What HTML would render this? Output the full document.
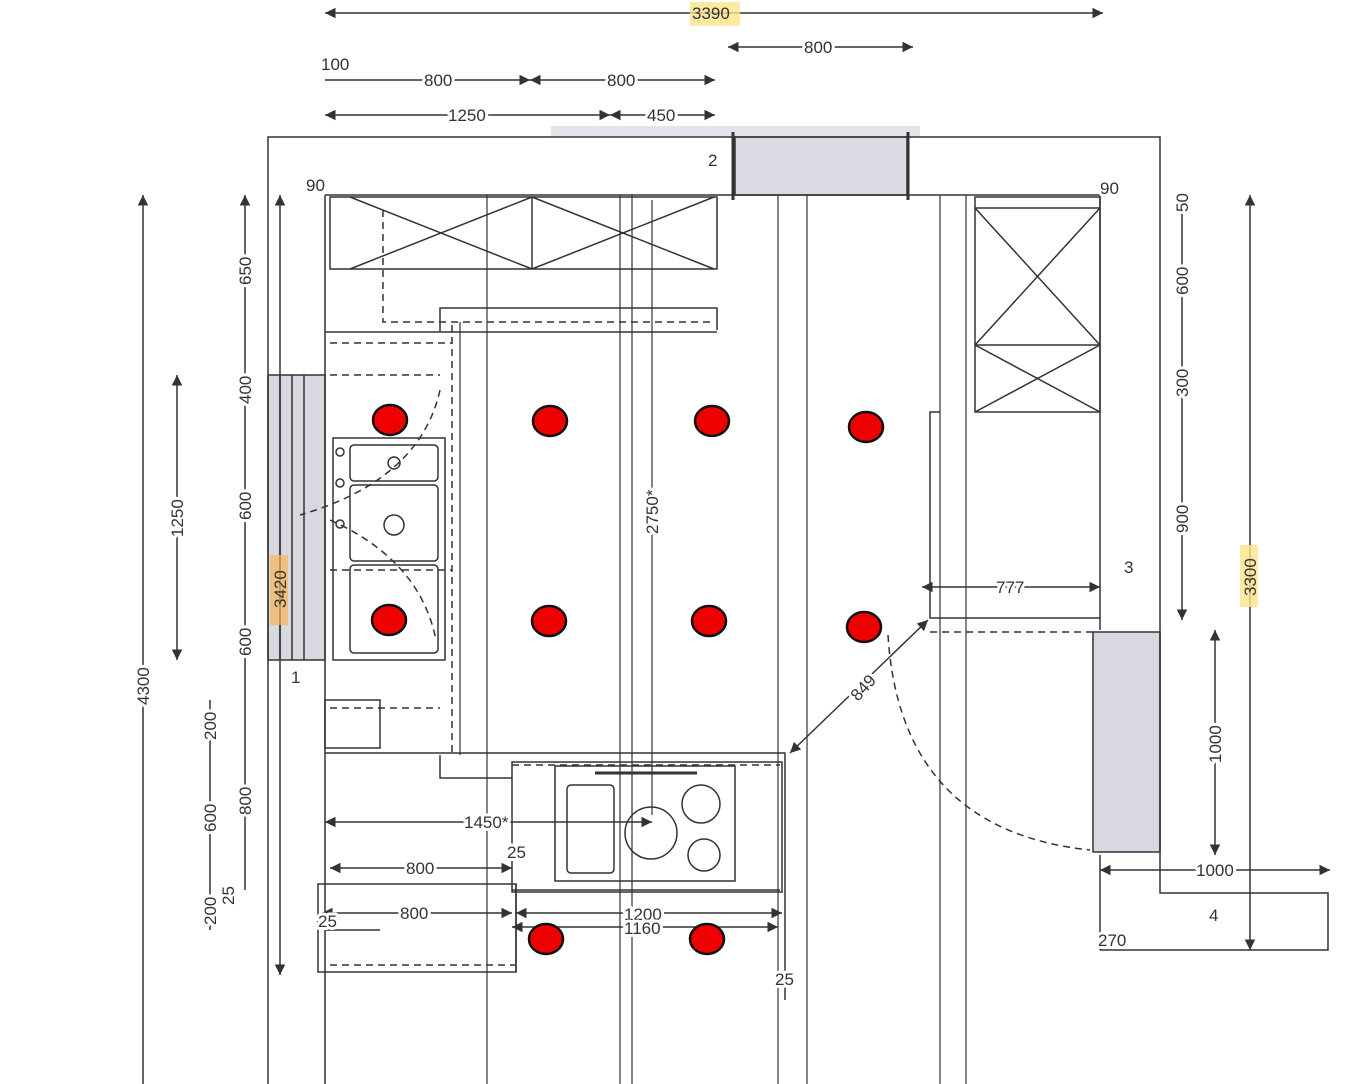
<!DOCTYPE html>
<html><head><style>
html,body{margin:0;padding:0;background:#fff;width:1357px;height:1084px;overflow:hidden}
svg{display:block}
text{font-family:"Liberation Sans",sans-serif;font-size:17px;fill:#333;paint-order:stroke;stroke:#fff;stroke-width:6px;stroke-linejoin:round}
text.h{stroke:none}
</style></head><body>
<svg width="1357" height="1084" viewBox="0 0 1357 1084" xmlns="http://www.w3.org/2000/svg">
<defs>
<marker id="a" viewBox="0 0 10 10" refX="10" refY="5" markerWidth="9" markerHeight="7" orient="auto-start-reverse"><path d="M0,0 L10,5 L0,10z" fill="#333"/></marker>
</defs>
<g stroke="#333" stroke-width="1.5" fill="none">
<rect x="551" y="126" width="369" height="11" fill="#e4e4ea" stroke="none"/>
<rect x="735" y="137" width="172" height="58" fill="#dcdce4"/>
<rect x="268" y="375" width="57" height="285" fill="#d8d8e0"/>
<line x1="280" y1="375" x2="280" y2="660"/><line x1="292" y1="375" x2="292" y2="660"/><line x1="304" y1="375" x2="304" y2="660"/>
<rect x="1093" y="632" width="67" height="220" fill="#d8d8e0"/>
<polyline points="268,1084 268,137 1160,137 1160,893 1328,893 1328,950 1100,950"/>
<line x1="325" y1="195" x2="1100" y2="195"/>
<line x1="325" y1="195" x2="325" y2="1084"/>
<line x1="1100" y1="195" x2="1100" y2="630"/>
<line x1="1100" y1="855" x2="1100" y2="950"/>
<g stroke-width="1.2">
<line x1="460" y1="322" x2="460" y2="755"/><line x1="487" y1="195" x2="487" y2="1084"/>
<line x1="620" y1="195" x2="620" y2="1084"/><line x1="632" y1="195" x2="632" y2="1084"/>
<line x1="778" y1="195" x2="778" y2="1084"/><line x1="807" y1="195" x2="807" y2="1084"/>
<line x1="940" y1="195" x2="940" y2="1084"/><line x1="966" y1="195" x2="966" y2="1084"/>
<line x1="652" y1="200" x2="652" y2="815"/>
</g>
<rect x="330" y="197" width="387" height="72"/>
<line x1="350" y1="197" x2="532" y2="269"/><line x1="532" y1="197" x2="350" y2="269"/>
<line x1="532" y1="197" x2="714" y2="269"/><line x1="714" y1="197" x2="532" y2="269"/>
<line x1="532" y1="197" x2="532" y2="269"/>
<polyline points="440,332 440,308 717,308 717,330"/>
<line x1="325" y1="332" x2="460" y2="332"/>
<line x1="460" y1="332" x2="717" y2="332"/>
<path d="M383,210 V322 H715" stroke-dasharray="7,5"/>
<path d="M452,325 V755" stroke-dasharray="7,5"/>
<line x1="330" y1="343" x2="452" y2="343" stroke-dasharray="7,5"/>
<line x1="330" y1="375" x2="440" y2="375" stroke-dasharray="7,5"/>
<line x1="330" y1="570" x2="452" y2="570" stroke-dasharray="7,5"/>
<rect x="333" y="438" width="112" height="222"/>
<rect x="350" y="445" width="88" height="36" rx="4"/>
<rect x="350" y="485" width="88" height="76" rx="4"/>
<rect x="350" y="565" width="88" height="88" rx="4"/>
<circle cx="394" cy="463" r="6"/><circle cx="394" cy="525" r="10"/>
<circle cx="340" cy="452" r="4"/><circle cx="340" cy="483" r="4"/><circle cx="340" cy="524" r="4"/>
<path d="M440,390 Q420,480 300,515" stroke-dasharray="7,5"/>
<path d="M330,520 Q420,560 436,640" stroke-dasharray="7,5"/>
<line x1="330" y1="708" x2="440" y2="708" stroke-dasharray="7,5"/>
<rect x="325" y="700" width="55" height="48"/>
<polyline points="325,753 785,753 785,1000"/>
<polyline points="440,755 440,778 512,778"/>
<rect x="512" y="762" width="270" height="130"/>
<line x1="512" y1="765" x2="780" y2="765" stroke-dasharray="7,5"/>
<rect x="555" y="766" width="180" height="115"/>
<line x1="595" y1="773" x2="697" y2="773" stroke-width="3"/>
<rect x="567" y="785" width="47" height="88" rx="4"/>
<circle cx="651" cy="833" r="26"/><circle cx="701" cy="804" r="19"/><circle cx="704" cy="855" r="16"/>
<rect x="318" y="884" width="198" height="88"/>
<line x1="325" y1="930" x2="380" y2="930"/>
<line x1="330" y1="965" x2="515" y2="965" stroke-dasharray="7,5"/>
<line x1="512" y1="890" x2="780" y2="890"/>
<line x1="516" y1="972" x2="516" y2="884"/>
<rect x="975" y="197" width="125" height="215"/>
<line x1="975" y1="208" x2="1100" y2="208"/>
<line x1="975" y1="345" x2="1100" y2="345"/>
<line x1="975" y1="208" x2="1100" y2="345"/><line x1="1100" y1="208" x2="975" y2="345"/>
<line x1="975" y1="345" x2="1100" y2="412"/><line x1="1100" y1="345" x2="975" y2="412"/>
<polyline points="940,412 930,412 930,618 1100,618"/>
<line x1="930" y1="632" x2="1093" y2="632" stroke-dasharray="7,5"/>
<path d="M888,635 Q900,830 1090,850" stroke-dasharray="7,5"/>
<line x1="733" y1="132" x2="733" y2="200" stroke-width="3"/><line x1="908" y1="132" x2="908" y2="200" stroke-width="3"/>
</g>
<g stroke="#333" stroke-width="1.5" fill="none">
<line x1="325" y1="13" x2="1103" y2="13" marker-start="url(#a)" marker-end="url(#a)"/>
<line x1="728" y1="47" x2="913" y2="47" marker-start="url(#a)" marker-end="url(#a)"/>
<line x1="325" y1="80" x2="530" y2="80" marker-end="url(#a)"/>
<line x1="530" y1="80" x2="715" y2="80" marker-start="url(#a)" marker-end="url(#a)"/>
<line x1="325" y1="115" x2="610" y2="115" marker-start="url(#a)" marker-end="url(#a)"/>
<line x1="610" y1="115" x2="715" y2="115" marker-start="url(#a)" marker-end="url(#a)"/>
<line x1="143" y1="195" x2="143" y2="1084" marker-start="url(#a)"/>
<line x1="177" y1="375" x2="177" y2="660" marker-start="url(#a)" marker-end="url(#a)"/>
<line x1="245" y1="195" x2="245" y2="890" marker-start="url(#a)"/>
<line x1="280" y1="195" x2="280" y2="975" marker-start="url(#a)" marker-end="url(#a)"/>
<line x1="210" y1="700" x2="210" y2="930"/>
<line x1="1182" y1="195" x2="1182" y2="620" marker-end="url(#a)"/>
<line x1="1250" y1="195" x2="1250" y2="950" marker-start="url(#a)" marker-end="url(#a)"/>
<line x1="1215" y1="630" x2="1215" y2="855" marker-start="url(#a)" marker-end="url(#a)"/>
<line x1="1100" y1="870" x2="1330" y2="870" marker-start="url(#a)" marker-end="url(#a)"/>
<line x1="922" y1="587" x2="1100" y2="587" marker-start="url(#a)" marker-end="url(#a)"/>
<line x1="928" y1="620" x2="790" y2="753" marker-start="url(#a)" marker-end="url(#a)"/>
<line x1="325" y1="822" x2="652" y2="822" marker-start="url(#a)" marker-end="url(#a)"/>
<line x1="330" y1="868" x2="512" y2="868" marker-start="url(#a)" marker-end="url(#a)"/>
<line x1="322" y1="913" x2="512" y2="913" marker-start="url(#a)" marker-end="url(#a)"/>
<line x1="516" y1="913" x2="782" y2="913" marker-start="url(#a)" marker-end="url(#a)"/>
<line x1="512" y1="927" x2="778" y2="927" marker-start="url(#a)" marker-end="url(#a)"/>
</g>
<rect x="690" y="2" width="50" height="24" fill="#fce38a" opacity="0.8"/>
<rect x="1240" y="545" width="18" height="62" fill="#fce38a" opacity="0.8"/>
<rect x="270" y="555" width="18" height="70" fill="#f9b55a" opacity="0.7"/>
<g>
<text class="h" x="692" y="19">3390</text>
<text x="804" y="53">800</text>
<text x="321" y="70">100</text>
<text x="424" y="86">800</text><text x="607" y="86">800</text>
<text x="448" y="121">1250</text><text x="647" y="121">450</text>
<text x="306" y="191">90</text><text x="1100" y="194">90</text>
<text x="708" y="166">2</text><text x="291" y="683">1</text><text x="1124" y="573">3</text><text x="1209" y="921">4</text>
<text x="1098" y="946">270</text>
<text x="996" y="593">777</text>
<text x="1196" y="876">1000</text>
<text x="464" y="828">1450*</text>
<text x="406" y="874">800</text>
<text x="400" y="919">800</text>
<text x="624" y="920">1200</text><text x="624" y="934">1160</text>
<text x="507" y="858">25</text><text x="318" y="927">25</text><text x="775" y="985">25</text>
</g>
<g>
<text transform="translate(251,285) rotate(-90)">650</text>
<text transform="translate(251,404) rotate(-90)">400</text>
<text transform="translate(251,520) rotate(-90)">600</text>
<text transform="translate(251,656) rotate(-90)">600</text>
<text transform="translate(251,815) rotate(-90)">800</text>
<text transform="translate(216,740) rotate(-90)">200</text>
<text transform="translate(216,832) rotate(-90)">600</text>
<text transform="translate(216,925) rotate(-90)">200</text>
<text transform="translate(234,905) rotate(-90)">25</text>
<text class="h" transform="translate(286,608) rotate(-90)">3420</text>
<text transform="translate(183,537) rotate(-90)">1250</text>
<text transform="translate(149,705) rotate(-90)">4300</text>
<text transform="translate(658,534) rotate(-90)">2750*</text>
<text transform="translate(1188,212) rotate(-90)">50</text>
<text transform="translate(1188,295) rotate(-90)">600</text>
<text transform="translate(1188,397) rotate(-90)">300</text>
<text transform="translate(1188,533) rotate(-90)">900</text>
<text class="h" transform="translate(1256,596) rotate(-90)">3300</text>
<text transform="translate(1221,763) rotate(-90)">1000</text>
<text transform="translate(858,702) rotate(-48)">849</text>
</g>
<g fill="#e00" stroke="#111" stroke-width="2.5">
<ellipse cx="390" cy="420" rx="17" ry="15"/><ellipse cx="550" cy="421" rx="17" ry="15"/>
<ellipse cx="712" cy="421" rx="17" ry="15"/><ellipse cx="866" cy="427" rx="17" ry="15"/>
<ellipse cx="389" cy="620" rx="17" ry="15"/><ellipse cx="549" cy="621" rx="17" ry="15"/>
<ellipse cx="709" cy="621" rx="17" ry="15"/><ellipse cx="864" cy="627" rx="17" ry="15"/>
<ellipse cx="546" cy="939" rx="17" ry="15"/><ellipse cx="707" cy="939" rx="17" ry="15"/>
</g>
</svg>
</body></html>
